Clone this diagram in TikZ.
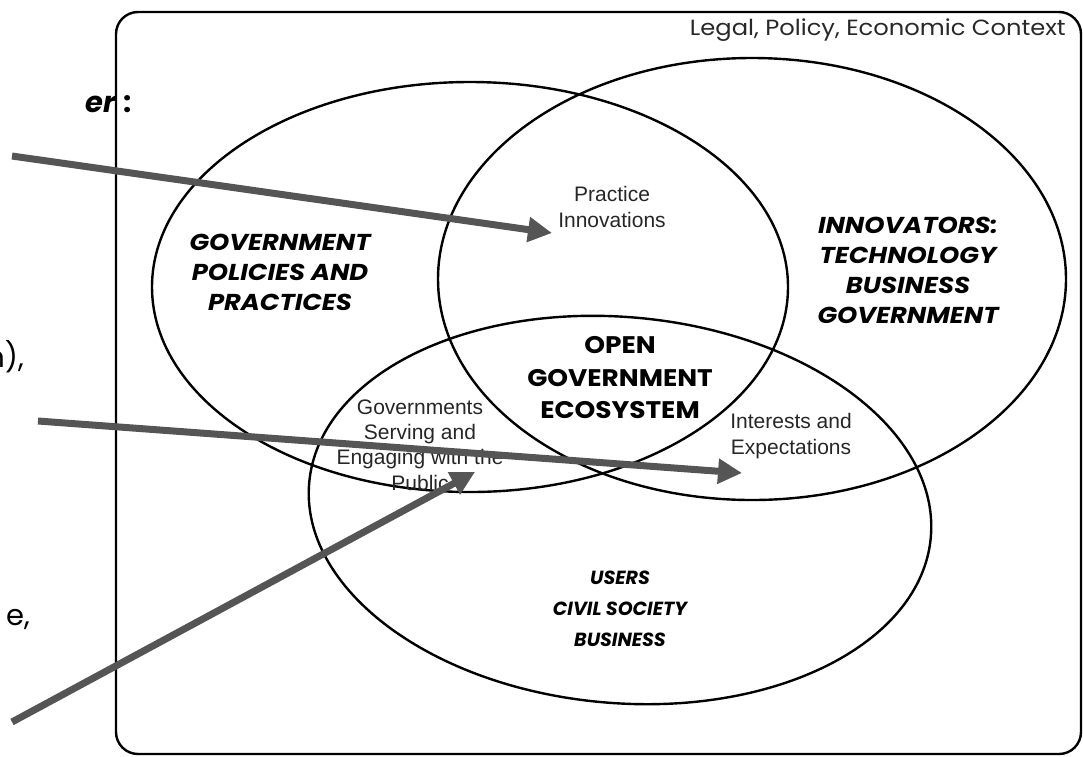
\documentclass[tikz,border=0pt]{standalone}
\usepackage{fontspec}
\setmainfont{Poppins}
\newfontfamily\arialf{Liberation Sans}
\newfontfamily\widef[FakeStretch=1.12]{Poppins}
\newfontfamily\widerf[FakeStretch=1.1]{Poppins}
\usetikzlibrary{arrows.meta}
\definecolor{arrowgray}{RGB}{85,85,85}
\definecolor{ctxgray}{RGB}{40,40,40}
\begin{document}
\begin{tikzpicture}[x=1pt,y=-1pt,
  venn/.style={line width=2.4pt},
  frame/.style={line width=2.4pt, rounded corners=22pt},
  bigital/.style={font=\widef\bfseries\itshape\fontsize{23}{30}\selectfont, align=center, inner sep=0pt},
  usrital/.style={font=\bfseries\itshape\fontsize{19}{31}\selectfont, align=center, inner sep=0pt},
  bigup/.style={font=\widerf\bfseries\fontsize{24}{32.5}\selectfont, align=center, inner sep=0pt},
  small/.style={font=\arialf\fontsize{21}{25.3}\selectfont, align=center, inner sep=0pt, text=black!85},
  frag/.style={font=\fontsize{29}{30}\selectfont, inner sep=0pt},
  pointer/.style={line width=7pt, draw=arrowgray, -{Triangle[length=24pt,width=24pt]}}
]
\useasboundingbox (0,0) rectangle (1083,756);
\begin{scope}
\clip (0,0) rectangle (1083,756);
\draw[frame] (116,12) rectangle (1081,754);
\node[font=\widerf\fontsize{22}{24}\selectfont, text=ctxgray, anchor=east, inner sep=0pt] (ctx) at (1066,30) {Legal, Policy, Economic Context};

\draw[venn] (470,287) ellipse [x radius=318, y radius=205];
\draw[venn] (752,279) ellipse [x radius=314, y radius=221];
\draw[venn, shift={(620,510)}, rotate=-5] (0,0) ellipse [x radius=312, y radius=193];

\node[bigital] (gov) at (280,272) {GOVERNMENT\\POLICIES AND\\PRACTICES};
\node[bigital] (inn) at (908,270) {INNOVATORS:\\TECHNOLOGY\\BUSINESS\\GOVERNMENT};
\node[usrital] (usr) at (620,609) {USERS\\CIVIL SOCIETY\\BUSINESS};
\node[bigup] (open) at (620,378) {OPEN\\GOVERNMENT\\ECOSYSTEM};
\node[small] (prac) at (612,207) {Practice\\Innovations};
\node[small] (serv) at (420,445) {Governments\\Serving and\\Engaging with the\\Public};
\node[small] (intr) at (791,436) {Interests and\\Expectations};

\node[frag, anchor=base west] (f1) at (85,112) {\textbf{\textit{er}}\hspace{7pt}\textbf{:}};
\node[frag, anchor=base east] (f2) at (24,367) {n),};
\node[frag, anchor=base east] (f3) at (30,625) {e,};

\coordinate (s1) at (12,156);
\coordinate (t1) at (552,233);
\coordinate (s2) at (38,421);
\coordinate (t2) at (742,473);
\coordinate (s3) at (12,722);
\coordinate (t3) at (475,472);
\draw[pointer] (s1) -- (t1);
\draw[pointer] (s2) -- (t2);
\draw[pointer] (s3) -- (t3);
\end{scope}
\end{tikzpicture}
\end{document}
